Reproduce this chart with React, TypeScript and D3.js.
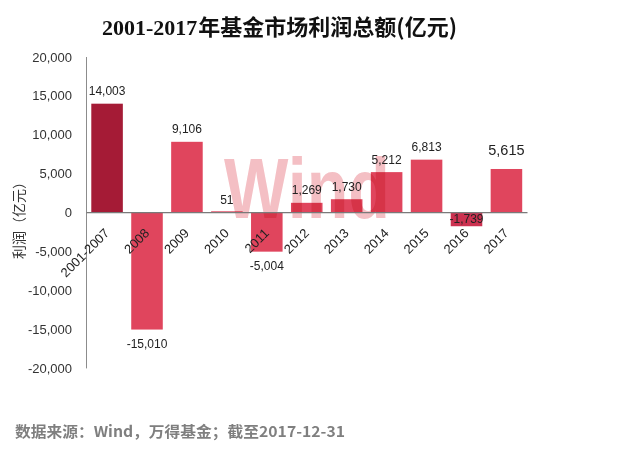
import React from "react";
import * as d3 from "d3";

const categories = ["2001-2007", "2008", "2009", "2010", "2011", "2012", "2013", "2014", "2015", "2016", "2017"];
const values = [14003, -15010, 9106, 51, -5004, 1269, 1730, 5212, 6813, -1739, 5615];
const yTicks = [20000, 15000, 10000, 5000, 0, -5000, -10000, -15000, -20000];
const titleYears = "2001-2017";
const titleRest = "年基金市场利润总额(亿元)";
const yAxisTitle = "利润（亿元）";
const source = "数据来源：Wind，万得基金；截至2017-12-31";

const W = 641;
const H = 459;

export default function App() {
  const x = d3
    .scaleBand<string>()
    .domain(categories)
    .range([86.5, 527])
    .paddingInner(0.21)
    .paddingOuter(0.12);
  const y = d3.scaleLinear().domain([-20000, 20000]).range([368.4, 57]);
  const fmt = (v: number) => d3.format(",")(v).replace("\u2212", "-");
  const y0 = y(0);
  const bw = x.bandwidth();

  const barColor = (i: number) => (i === 0 ? "#A51B36" : i === 9 ? "#CC3150" : "#E0455D");

  return (
    <svg
      width={W}
      height={H}
      style={{ position: "absolute", left: 0, top: 0, display: "block", background: "#fff" }}
      fontFamily="'Liberation Sans', Arial, sans-serif"
    >
      <rect width={W} height={H} fill="#fff" />
      {/* title */}
      <text x={102} y={35} fontSize={22} fill="#111">
        <tspan fontFamily="'Liberation Serif', serif" fontWeight="bold">
          {titleYears}
        </tspan>
        <tspan fontFamily="'Noto Sans CJK SC', sans-serif" fontWeight="bold" dx={1}>
          {titleRest}
        </tspan>
      </text>

      {/* y tick labels */}
      {yTicks.map((t) => (
        <text key={t} x={72} y={y(t) + 4.5} textAnchor="end" fontSize={13} fill="#333">
          {fmt(t)}
        </text>
      ))}

      {/* y axis title */}
      <text
        transform={`translate(24,217) rotate(-90)`}
        textAnchor="middle"
        fontSize={14}
        fontFamily="'Noto Sans CJK SC', sans-serif"
        fill="#333"
      >
        {yAxisTitle}
      </text>

      {/* bars */}
      {values.map((v, i) => {
        const bx = x(categories[i])!;
        const top = Math.min(y(v), y0);
        const h = Math.max(Math.abs(y(v) - y0), 1);
        return <rect key={categories[i]} x={bx} y={top - (h === 1 && v >= 0 ? 1 : 0)} width={bw} height={h} fill={barColor(i)} />;
      })}

      {/* watermark */}
      <text
        x={224}
        y={218}
        fontSize={86}
        fontWeight="bold"
        fill="#F4BFC4"
        textLength={166}
        lengthAdjust="spacingAndGlyphs"
        style={{ mixBlendMode: "multiply" }}
      >
        Wind
      </text>

      {/* axes */}
      <line x1={86.5} x2={86.5} y1={y(20000)} y2={y(-20000)} stroke="#8c8c8c" strokeWidth={1} />
      <line x1={86.5} x2={527.5} y1={y0} y2={y0} stroke="#7a7a7a" strokeWidth={1.2} />

      {/* value labels */}
      {values.map((v, i) => {
        const cx = x(categories[i])! + bw / 2;
        const big = i === values.length - 1;
        let ly: number;
        if (v >= 0) ly = y(v) - (big ? 14 : 8.5);
        else if (y(v) - y0 < 20) ly = y0 + 10.5;
        else ly = y(v) + 18.5;
        return (
          <text key={"l" + i} x={cx} y={ly} textAnchor="middle" fontSize={big ? 14.5 : 12} fill="#222">
            {fmt(v)}
          </text>
        );
      })}

      {/* x labels */}
      {categories.map((c) => {
        const cx = x(c)! + bw / 2;
        return (
          <text
            key={"x" + c}
            transform={`translate(${cx + 3},${234}) rotate(-45)`}
            textAnchor="end"
            fontSize={13}
            fill="#222"
          >
            {c}
          </text>
        );
      })}

      {/* source */}
      <text
        x={15}
        y={437}
        fontSize={15}
        fontWeight="bold"
        fill="#7f7f7f"
        fontFamily="'Noto Sans CJK SC', sans-serif"
        textLength={330}
        lengthAdjust="spacingAndGlyphs"
      >
        {source}
      </text>
    </svg>
  );
}
